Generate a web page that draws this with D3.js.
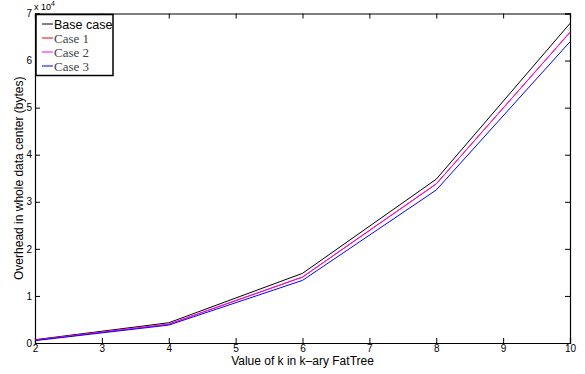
<!DOCTYPE html>
<html>
<head>
<meta charset="utf-8">
<script src="https://cdn.jsdelivr.net/npm/d3@7"></script>
<style>
  body { margin: 0; background: #fff; }
  text { font-family: "Liberation Sans", Arial, sans-serif; }
</style>
</head>
<body>
<div id="chart"></div>
<script>
// data
var kValues = [2, 4, 6, 8, 10];
var baseCase = [700, 4300, 14800, 34800, 67900];
var case1 = [600, 4000, 14000, 33800, 66000];
var case2 = [600, 4000, 14000, 33800, 66000];
var case3 = [500, 3800, 13300, 32500, 64000];
var seriesNames = ["Base case", "Case 1", "Case 2", "Case 3"];
var seriesColors = ["#000000", "#ff0000", "#ff00ff", "#0000ff"];
var xTicks = [2, 3, 4, 5, 6, 7, 8, 9, 10];
var yTicks = [0, 1, 2, 3, 4, 5, 6, 7];

var margin = {top: 13.5, right: 15, bottom: 31, left: 35};
var width = 585 - margin.left - margin.right;
var height = 374 - margin.top - margin.bottom;

var svg = d3.select("#chart").append("svg")
    .attr("width", 585)
    .attr("height", 374)
    .append("g")
    .attr("transform", "translate(" + margin.left + "," + margin.top + ")");

var xScale = d3.scaleLinear().domain([2, 10]).range([0, width]);
var yScale = d3.scaleLinear().domain([0, 70000]).range([height, 0]);

// axes with inward ticks, matlab box style
var xAxis = d3.axisBottom(xScale).tickValues(xTicks).tickSize(-5).tickPadding(2).tickFormat(d3.format("d"));
svg.append("g").attr("class", "xaxis")
    .attr("transform", "translate(0," + height + ")")
    .call(xAxis);
svg.append("g")
    .call(d3.axisTop(xScale).tickValues(xTicks).tickSize(-5).tickFormat(""));

var yAxis = d3.axisLeft(yScale).tickValues(yTicks.map(function(d) { return d * 10000; }))
    .tickSize(-5).tickPadding(3).tickFormat(function(d) { return d / 10000; });
svg.append("g").attr("class", "yaxis").call(yAxis);
svg.append("g")
    .attr("transform", "translate(" + width + ",0)")
    .call(d3.axisRight(yScale).tickValues(yTicks.map(function(d) { return d * 10000; })).tickSize(-5).tickFormat(""));

svg.selectAll(".domain").attr("stroke", "#000").attr("stroke-width", 1.2);
svg.selectAll(".tick line").attr("stroke", "#000");
svg.selectAll(".tick text").attr("font-size", 10).attr("fill", "#000")
    .style("font-family", "Liberation Sans, Arial, sans-serif");

// exponent label
var expo = svg.append("text")
    .attr("x", -1)
    .attr("y", -4)
    .attr("font-size", 9)
    .text("x 10");
expo.append("tspan").attr("dy", -4).attr("font-size", 7).text("4");

// axis labels
svg.append("text")
    .attr("x", width / 2)
    .attr("y", height + 22)
    .attr("text-anchor", "middle")
    .attr("font-size", 12)
    .text("Value of k in k\u2013ary FatTree");

svg.append("text")
    .attr("transform", "rotate(-90)")
    .attr("x", -height / 2)
    .attr("y", -12)
    .attr("text-anchor", "middle")
    .attr("font-size", 12)
    .text("Overhead in whole data center (bytes)");

// lines
var allSeries = [baseCase, case1, case2, case3];
var line = d3.line()
    .x(function(d, i) { return xScale(kValues[i]); })
    .y(function(d) { return yScale(d); });

allSeries.forEach(function(s, i) {
    svg.append("path")
        .datum(s)
        .attr("fill", "none")
        .attr("stroke", seriesColors[i])
        .attr("stroke-width", 1)
        .attr("d", line);
});

// legend
var legend = svg.append("g").attr("transform", "translate(1,1)");
legend.append("rect")
    .attr("width", 77).attr("height", 61)
    .attr("fill", "#fff").attr("stroke", "#000").attr("stroke-width", 1.5);

seriesNames.forEach(function(name, i) {
    var y = 9.5 + i * 14;
    legend.append("line")
        .attr("x1", 6).attr("x2", 17)
        .attr("y1", y).attr("y2", y)
        .attr("stroke", seriesColors[i]).attr("stroke-width", 1);
    legend.append("text")
        .attr("x", 18)
        .attr("y", y + 4.5)
        .attr("font-size", i === 0 ? 12.5 : 13)
        .attr("fill", i === 0 ? "#000" : "#444")
        .style("font-family", i === 0 ? "Liberation Sans, Arial, sans-serif" : "Liberation Serif, Times New Roman, serif")
        .text(name);
});
</script>
</body>
</html>
